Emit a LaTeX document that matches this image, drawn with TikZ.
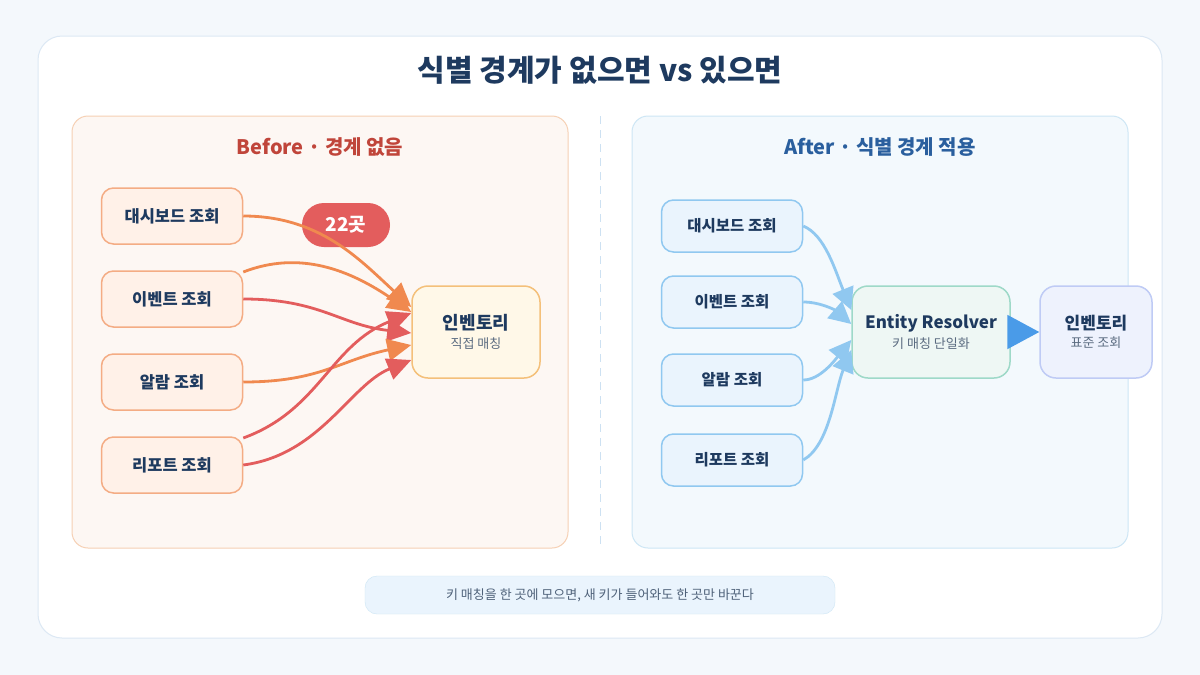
\documentclass[tikz,border=0pt]{standalone}
\usepackage{fontspec}
\setmainfont{Noto Sans CJK KR}
\usetikzlibrary{arrows.meta}
\definecolor{navy}{HTML}{1E3A5F}
\definecolor{grayt}{HTML}{5A6B80}
\definecolor{orng}{HTML}{F0894F}
\definecolor{redd}{HTML}{E35D5D}
\definecolor{lblue}{HTML}{90C8F0}
\definecolor{dblue}{HTML}{4A9BE8}
\begin{document}
\begin{tikzpicture}[x=1pt,y=-1pt,
  src/.style={draw=#1, line width=1.5pt, rounded corners=12pt, minimum width=141pt, minimum height=56pt, font=\bfseries\fontsize{16.5}{19}\selectfont, text=navy},
  oarr/.style={line width=2.8pt, draw=#1, -{Triangle[length=24pt,width=22pt]}},
  barr/.style={line width=2.8pt, draw=lblue, -{Triangle[length=22pt,width=22pt]}}]
\useasboundingbox (0,0) rectangle (1200,675);
\fill [fill={rgb,255:red,244;green,248;blue,252}] (0,0) rectangle (1200,675);
\draw [fill=white, draw={rgb,255:red,220;green,232;blue,244}, line width=1pt, rounded corners=24pt] (38,36) rectangle (1162,638);
\node (title) [text=navy, font=\bfseries\fontsize{30}{34}\selectfont] at (600,70) {식별 경계가 없으면 vs 있으면};
% panels
\draw [fill={rgb,255:red,253;green,247;blue,243}, draw={rgb,255:red,246;green,208;blue,180}, line width=1pt, rounded corners=16pt] (72,116) rectangle (568,548);
\draw [fill={rgb,255:red,243;green,249;blue,253}, draw={rgb,255:red,205;green,230;blue,245}, line width=1pt, rounded corners=16pt] (632,116) rectangle (1128,548);
\draw [line width=1pt, draw={rgb,255:red,205;green,225;blue,242}, dash pattern=on 8pt off 6pt] (600,116) -- (600,548);
\node (hl) [text={rgb,255:red,192;green,69;blue,58}, font=\bfseries\fontsize{20}{24}\selectfont] at (320,147) {Before · 경계 없음};
\node (hr) [text={rgb,255:red,42;green,95;blue,158}, font=\bfseries\fontsize{20}{24}\selectfont] at (880,147) {After · 식별 경계 적용};
% before
\node (ldash) [src=orng!70, fill={rgb,255:red,255;green,241;blue,232}] at (172,216) {대시보드 조회};
\node (levent) [src=orng!70, fill={rgb,255:red,255;green,241;blue,232}] at (172,299) {이벤트 조회};
\node (lalarm) [src=orng!70, fill={rgb,255:red,255;green,241;blue,232}] at (172,382) {알람 조회};
\node (lrep) [src=orng!70, fill={rgb,255:red,255;green,241;blue,232}] at (172,465) {리포트 조회};
\node (linv) [draw={rgb,255:red,244;green,192;blue,122}, fill={rgb,255:red,255;green,248;blue,232}, line width=1.5pt, rounded corners=16pt, minimum width=128pt, minimum height=92pt, align=center, text=navy] at (476,332) {{\bfseries\fontsize{18}{21}\selectfont 인벤토리}\\[5pt]{\fontsize{13}{15}\selectfont\color{grayt}직접 매칭}};
\node (badge) [fill=redd, rounded corners=22pt, minimum width=88pt, minimum height=44pt, text=white, font=\bfseries\fontsize{19}{22}\selectfont] at (346,225) {22곳};
\draw [oarr=orng] (ldash.east) .. controls (320,216) and (360,260) .. ([yshift=25pt]linv.west);
\draw [oarr=orng] ([yshift=27pt]levent.east) .. controls (300,250) and (350,270) .. ([yshift=20pt]linv.west);
\draw [oarr=redd] (levent.east) .. controls (320,299) and (340,325) .. ([yshift=-1pt]linv.west);
\draw [oarr=orng] (lalarm.east) .. controls (320,382) and (340,360) .. ([yshift=-13pt]linv.west);
\draw [oarr=redd] ([yshift=27pt]lrep.east) .. controls (320,410) and (330,345) .. ([yshift=19pt]linv.west);
\draw [oarr=redd] (lrep.east) .. controls (320,455) and (350,385) .. ([yshift=-28pt]linv.west);
% after
\node (rdash) [src=lblue, fill={rgb,255:red,234;green,244;blue,253}, minimum height=52pt, font=\bfseries\fontsize{15.5}{18}\selectfont] at (732,226) {대시보드 조회};
\node (revent) [src=lblue, fill={rgb,255:red,234;green,244;blue,253}, minimum height=52pt, font=\bfseries\fontsize{15.5}{18}\selectfont] at (732,302) {이벤트 조회};
\node (ralarm) [src=lblue, fill={rgb,255:red,234;green,244;blue,253}, minimum height=52pt, font=\bfseries\fontsize{15.5}{18}\selectfont] at (732,380) {알람 조회};
\node (rrep) [src=lblue, fill={rgb,255:red,234;green,244;blue,253}, minimum height=52pt, font=\bfseries\fontsize{15.5}{18}\selectfont] at (732,460) {리포트 조회};
\node (resolver) [draw={rgb,255:red,158;green,217;blue,200}, fill={rgb,255:red,238;green,247;blue,244}, line width=1.5pt, rounded corners=16pt, minimum width=158pt, minimum height=92pt, align=center, text=navy] at (931,332) {{\bfseries\fontsize{17}{20}\selectfont Entity Resolver}\\[5pt]{\fontsize{13}{15}\selectfont\color{grayt}키 매칭 단일화}};
\node (rinv) [draw={rgb,255:red,191;green,203;blue,245}, fill={rgb,255:red,238;green,242;blue,253}, line width=1.5pt, rounded corners=16pt, minimum width=112pt, minimum height=92pt, align=center, text=navy] at (1096,332) {{\bfseries\fontsize{17}{20}\selectfont 인벤토리}\\[5pt]{\fontsize{13}{15}\selectfont\color{grayt}표준 조회}};
\draw [barr] (rdash.east) .. controls (825,235) and (835,270) .. ([yshift=22pt]resolver.west);
\draw [barr] (revent.east) .. controls (820,302) and (835,310) .. ([yshift=8pt]resolver.west);
\draw [barr] (ralarm.east) .. controls (820,380) and (835,360) .. ([yshift=-8pt]resolver.west);
\draw [barr] (rrep.east) .. controls (830,445) and (835,390) .. ([yshift=-18pt]resolver.west);
\draw [line width=2pt, draw=dblue, -{Triangle[length=32pt,width=34pt]}] (resolver.east) -- (rinv.west);
% footer
\node (note) [draw={rgb,255:red,205;green,230;blue,245}, fill={rgb,255:red,234;green,244;blue,253}, rounded corners=12pt, minimum width=470pt, minimum height=38pt, text=grayt!80!navy, font=\fontsize{13}{15}\selectfont] at (600,595) {키 매칭을 한 곳에 모으면, 새 키가 들어와도 한 곳만 바꾼다};
\end{tikzpicture}
\end{document}
